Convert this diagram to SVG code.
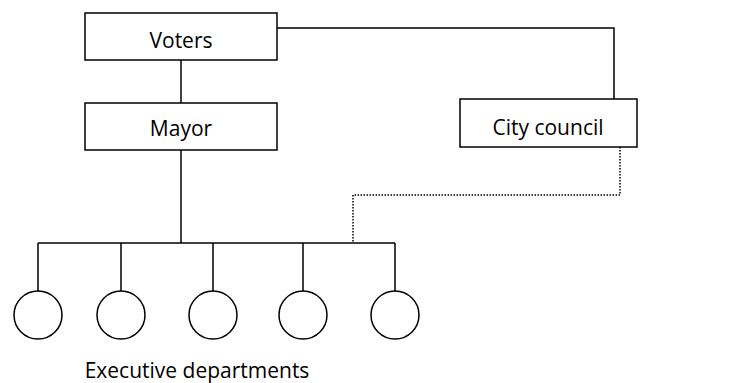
<svg xmlns="http://www.w3.org/2000/svg" width="735" height="383" viewBox="0 0 735 383">
<style>
.box{fill:#fff;stroke:#000;stroke-width:1.5}
.ln{fill:none;stroke:#000;stroke-width:1.5}
.dot{fill:none;stroke:#000;stroke-width:1.5;stroke-dasharray:1.5 1.5}
text{font-family:"Open Sans","Noto Sans",sans-serif;font-size:21px;fill:#000;text-anchor:middle}
</style>
<rect width="735" height="383" fill="#fff"/>
<g id="connectors">
<path class="ln" d="M181 60V103"/>
<path class="ln" d="M277 28H614V99"/>
<path class="ln" d="M181 150V243"/>
<path class="ln" d="M38 243H395"/>
<path class="ln" d="M38 243V291M121 243V291M213 243V291M303 243V291M395 243V291"/>
<path class="dot" d="M620 147V195H353V242"/>
</g>
<g id="voters"><rect class="box" x="85" y="13" width="192" height="47"/><text x="181" y="48">Voters</text></g>
<g id="mayor"><rect class="box" x="85" y="103" width="192" height="47"/><text x="181" y="136">Mayor</text></g>
<g id="council"><rect class="box" x="460" y="99" width="177" height="48"/><text x="548" y="135">City council</text></g>
<g id="dept1"><circle class="box" cx="38" cy="315" r="24"/></g>
<g id="dept2"><circle class="box" cx="121" cy="315" r="24"/></g>
<g id="dept3"><circle class="box" cx="213" cy="315" r="24"/></g>
<g id="dept4"><circle class="box" cx="303" cy="315" r="24"/></g>
<g id="dept5"><circle class="box" cx="395" cy="315" r="24"/></g>
<g id="label"><text x="197" y="378">Executive departments</text></g>
</svg>
